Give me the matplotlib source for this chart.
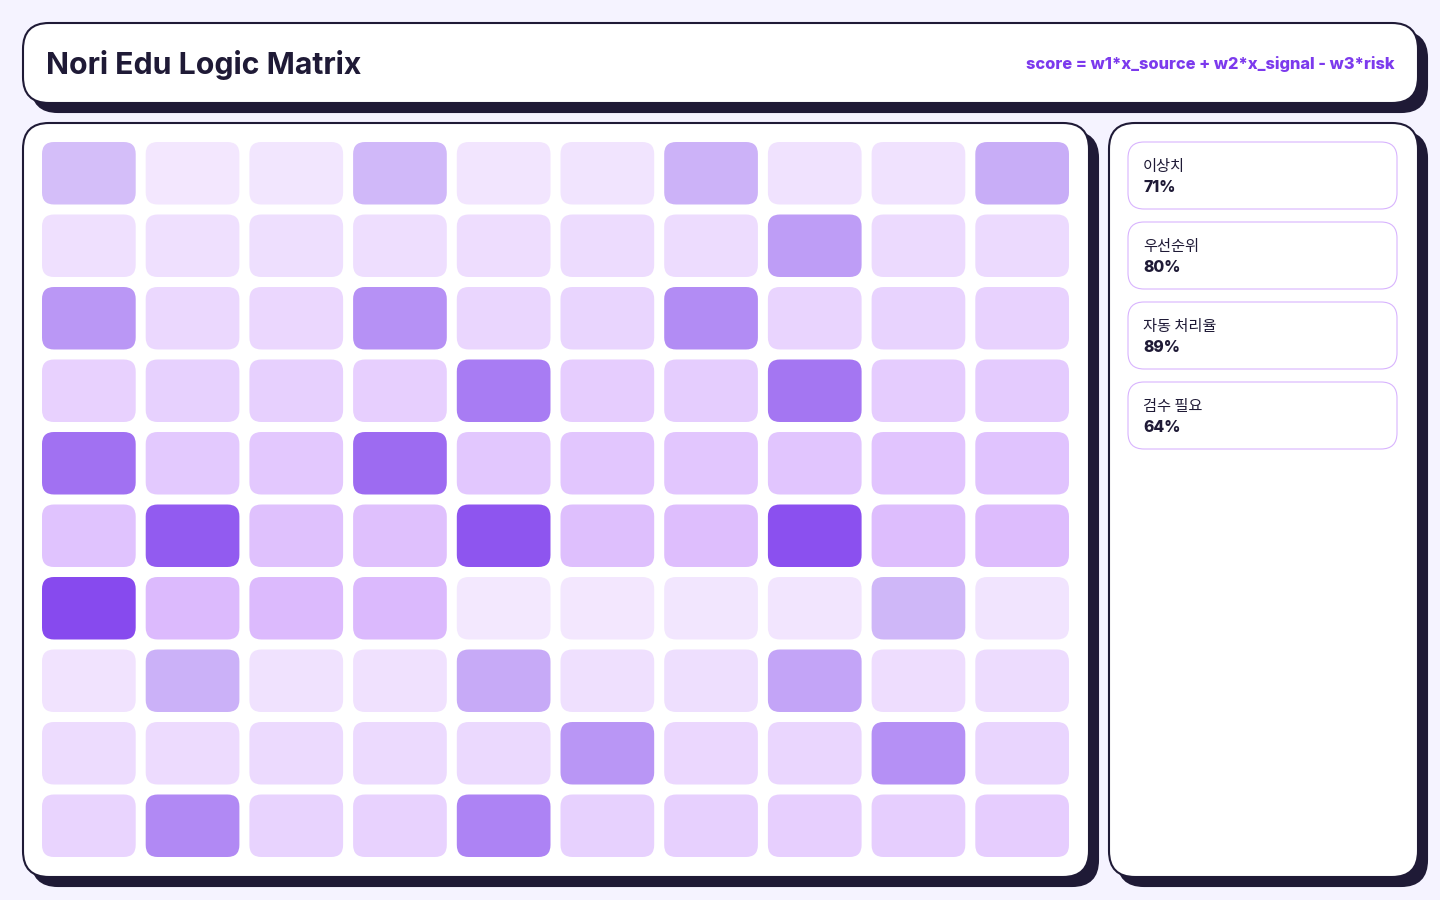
import matplotlib.pyplot as plt
from matplotlib.patches import FancyBboxPatch
from matplotlib.colors import to_rgb

# --- data ---------------------------------------------------------------
title = "Nori Edu Logic Matrix"
formula = "score = w1*x_source + w2*x_signal - w3*risk"

# cell intensity (0..1), row by row
intensity = [
    [0.00, 0.02, 0.03, 0.05, 0.06, 0.08, 0.10, 0.11, 0.13, 0.14],
    [0.16, 0.17, 0.19, 0.21, 0.22, 0.24, 0.25, 0.27, 0.29, 0.30],
    [0.32, 0.33, 0.35, 0.37, 0.38, 0.40, 0.41, 0.43, 0.44, 0.46],
    [0.48, 0.49, 0.51, 0.52, 0.54, 0.56, 0.57, 0.59, 0.60, 0.62],
    [0.63, 0.65, 0.67, 0.68, 0.70, 0.71, 0.73, 0.75, 0.76, 0.78],
    [0.79, 0.81, 0.83, 0.84, 0.86, 0.87, 0.89, 0.90, 0.92, 0.94],
    [0.95, 0.97, 0.98, 1.00, 0.00, 0.02, 0.03, 0.05, 0.06, 0.08],
    [0.10, 0.11, 0.13, 0.14, 0.16, 0.17, 0.19, 0.21, 0.22, 0.24],
    [0.25, 0.27, 0.29, 0.30, 0.32, 0.33, 0.35, 0.37, 0.38, 0.40],
    [0.41, 0.43, 0.44, 0.46, 0.48, 0.49, 0.51, 0.52, 0.54, 0.56],
]
# flagged cells (drawn in the accent violet)
flagged = [
    [1, 0, 0, 1, 0, 0, 1, 0, 0, 1],
    [0, 0, 0, 0, 0, 0, 0, 1, 0, 0],
    [1, 0, 0, 1, 0, 0, 1, 0, 0, 0],
    [0, 0, 0, 0, 1, 0, 0, 1, 0, 0],
    [1, 0, 0, 1, 0, 0, 0, 0, 0, 0],
    [0, 1, 0, 0, 1, 0, 0, 1, 0, 0],
    [1, 0, 0, 0, 0, 0, 0, 0, 1, 0],
    [0, 1, 0, 0, 1, 0, 0, 1, 0, 0],
    [0, 0, 0, 0, 0, 1, 0, 0, 1, 0],
    [0, 1, 0, 0, 1, 0, 0, 0, 0, 0],
]

metric_labels = ["이상치", "우선순위", "자동 처리율", "검수 필요"]
metric_values = [71, 80, 89, 64]

# --- style --------------------------------------------------------------
BG = "#f5f3ff"
DARK = "#1f1a36"
ACCENT = "#7c3aed"
BASE = "#c084fc"
CARD_EDGE = "#d8b4fe"


def blend(color, alpha):
    r, g, b = to_rgb(color)
    return (1 - alpha + alpha * r, 1 - alpha + alpha * g, 1 - alpha + alpha * b)


def panel(ax, x, y, w, h, r=26, shadow=9):
    ax.add_patch(FancyBboxPatch((x + shadow, y + shadow), w, h,
                                boxstyle=f"round,pad=0,rounding_size={r}",
                                fc=DARK, ec=DARK, lw=1.5, zorder=1))
    ax.add_patch(FancyBboxPatch((x, y), w, h,
                                boxstyle=f"round,pad=0,rounding_size={r}",
                                fc="white", ec=DARK, lw=1.5, zorder=2))


fig = plt.figure(figsize=(14.4, 9), dpi=100, facecolor=BG)
bg = fig.add_axes([0, 0, 1, 1])
bg.set_xlim(0, 1440)
bg.set_ylim(900, 0)
bg.axis("off")

# header
panel(bg, 23, 23, 1395, 80)
bg.text(46, 65, title, fontsize=21.8, fontweight="bold", family="Inter",
        color=DARK, va="center", ha="left", zorder=3)
bg.text(1394, 64, formula, fontsize=11.8, fontweight="heavy", family="Inter",
        color=ACCENT, va="center", ha="right", zorder=3)

# main and side panels
panel(bg, 23, 123, 1066, 754)
panel(bg, 1109, 123, 309, 754)

# metric cards
for i, (lab, val) in enumerate(zip(metric_labels, metric_values)):
    top = 142 + i * 80
    bg.add_patch(FancyBboxPatch((1128, top), 269, 67,
                                boxstyle="round,pad=0,rounding_size=16",
                                fc="white", ec=CARD_EDGE, lw=0.8, zorder=3))
    bg.text(1143, top + 25, lab, fontsize=11, family=["Noto Sans CJK KR", "DejaVu Sans"],
            color=DARK, va="center", ha="left", zorder=4)
    bg.text(1143, top + 45, f"{val}%", fontsize=11.3, fontweight="heavy", family="Inter",
            color=DARK, va="center", ha="left", zorder=4)

# matrix grid in its own axes: 1 unit per cell pitch
nrows, ncols = len(intensity), len(intensity[0])
gx0, gy0, gw, gh = 42, 142, 1037.0, 725.0
ax = fig.add_axes([gx0 / 1440, 1 - (gy0 + gh) / 900, gw / 1440, gh / 900])
ax.set_xlim(0, ncols)
ax.set_ylim(nrows, 0)
ax.axis("off")
ax.patch.set_alpha(0)

px_x = gw / ncols
px_y = gh / nrows
cw = 93.7 / px_x
ch = 62.5 / px_y
rad = 12 / px_x
aspect = px_x / px_y

for r in range(nrows):
    for c in range(ncols):
        t = intensity[r][c]
        if flagged[r][c]:
            col = blend(ACCENT, 0.33 + 0.62 * t)
        else:
            col = blend(BASE, 0.19 + 0.38 * t)
        ax.add_patch(FancyBboxPatch((c, r), cw, ch,
                                    boxstyle=f"round,pad=0,rounding_size={rad}",
                                    mutation_aspect=aspect,
                                    fc=col, ec="none"))

fig.savefig("out.png", dpi=100, facecolor=BG)
